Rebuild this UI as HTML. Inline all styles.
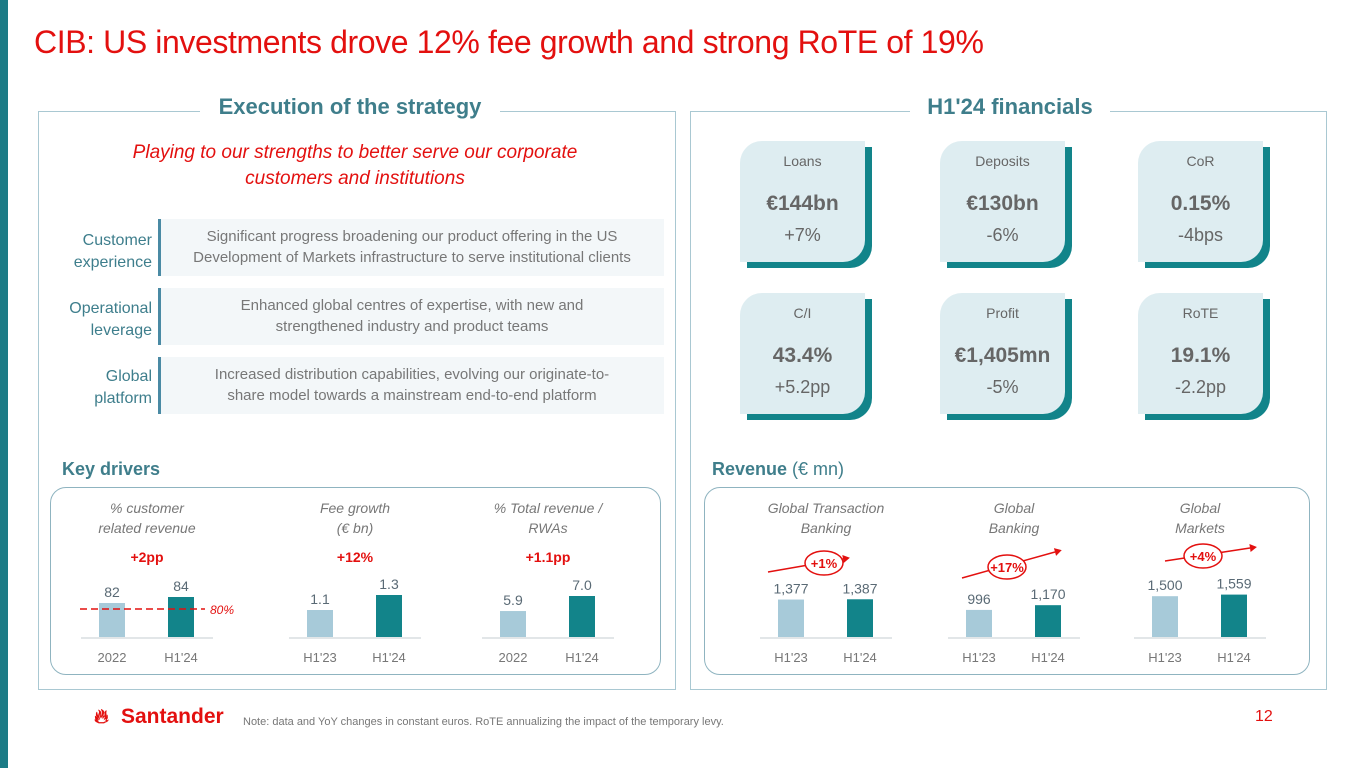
<!DOCTYPE html>
<html><head><meta charset="utf-8"><style>
*{margin:0;padding:0;box-sizing:border-box}
body{width:1365px;height:768px;position:relative;background:#fff;font-family:"Liberation Sans",sans-serif;overflow:hidden}
.a{position:absolute}
.c{text-align:center}
.card{position:absolute;width:125px;height:121px;background:#deedf1;border-radius:22px 0 22px 0;box-shadow:7px 6px 0 #12848a;}
.card .l{position:absolute;top:12px;width:100%;text-align:center;font-size:14px;color:#666}
.card .v{position:absolute;top:51px;width:100%;text-align:center;font-size:21px;font-weight:bold;color:#666}
.card .d{position:absolute;top:84px;width:100%;text-align:center;font-size:18px;color:#666}
.row{position:absolute;left:160px;width:504px;height:57px;background:#f3f7f9;color:#777;font-size:15px;line-height:21px;text-align:center;padding-top:7px}
.rl{position:absolute;left:48px;width:104px;text-align:right;color:#3e7e8c;font-size:16px;line-height:22px}
.bar{position:absolute;width:3px;left:158px;background:#4a8aa4;height:57px}
</style></head><body>
<div class="a" style="left:0;top:0;width:8px;height:768px;background:#1c7b86"></div>
<div class="a" style="left:34px;top:24px;font-size:32px;letter-spacing:-0.4px;color:#e3100f">CIB: US investments drove 12% fee growth and strong RoTE of 19%</div>

<div class="a" style="left:38px;top:111px;width:638px;height:579px;border:1px solid #a9c8d2"></div>
<div class="a" style="left:200px;top:94px;width:300px;background:#fff;text-align:center;font-size:22px;font-weight:bold;color:#3f7e8b">Execution of the strategy</div>
<div class="a" style="left:690px;top:111px;width:637px;height:579px;border:1px solid #a9c8d2"></div>
<div class="a" style="left:910px;top:94px;width:200px;background:#fff;text-align:center;font-size:22px;font-weight:bold;color:#3f7e8b">H1'24 financials</div>

<div class="a c" style="left:60px;top:140px;width:590px;font-size:19px;line-height:26px;font-style:italic;color:#e3100f">Playing to our strengths to better serve our corporate<br>customers and institutions</div>

<div class="row" style="top:219px">Significant progress broadening our product offering in the US<br>Development of Markets infrastructure to serve institutional clients</div>
<div class="bar" style="top:219px"></div>
<div class="rl" style="top:230px">Customer<br>experience</div>
<div class="row" style="top:288px">Enhanced global centres of expertise, with new and<br>strengthened industry and product teams</div>
<div class="bar" style="top:288px"></div>
<div class="rl" style="top:298px">Operational<br>leverage</div>
<div class="row" style="top:357px">Increased distribution capabilities, evolving our originate-to-<br>share model towards a mainstream end-to-end platform</div>
<div class="bar" style="top:357px"></div>
<div class="rl" style="top:366px">Global<br>platform</div>

<div class="card" style="left:740px;top:141px"><div class="l">Loans</div><div class="v">€144bn</div><div class="d">+7%</div></div>
<div class="card" style="left:940px;top:141px"><div class="l">Deposits</div><div class="v">€130bn</div><div class="d">-6%</div></div>
<div class="card" style="left:1138px;top:141px"><div class="l">CoR</div><div class="v">0.15%</div><div class="d">-4bps</div></div>
<div class="card" style="left:740px;top:293px"><div class="l">C/I</div><div class="v">43.4%</div><div class="d">+5.2pp</div></div>
<div class="card" style="left:940px;top:293px"><div class="l">Profit</div><div class="v">€1,405mn</div><div class="d">-5%</div></div>
<div class="card" style="left:1138px;top:293px"><div class="l">RoTE</div><div class="v">19.1%</div><div class="d">-2.2pp</div></div>

<div class="a" style="left:62px;top:459px;font-size:18px;font-weight:bold;color:#3f7e8b">Key drivers</div>
<div class="a" style="left:712px;top:459px;font-size:18px;color:#3f7e8b"><b>Revenue</b> (€ mn)</div>
<div class="a" style="left:50px;top:487px;width:611px;height:188px;border:1px solid #8fb4c0;border-radius:16px"></div>
<div class="a" style="left:704px;top:487px;width:606px;height:188px;border:1px solid #8fb4c0;border-radius:16px"></div>

<svg id="ch" class="a" style="left:0;top:0" width="1365" height="768"></svg>

<div class="a" style="left:94px;top:703px;font-size:22px;font-weight:bold;color:#e3100f"><span style="font-size:20px">&#x1F525;&#xFE0E;</span></div>
<div class="a" style="left:121px;top:705px;font-size:21px;font-weight:bold;color:#e3100f">Santander</div>
<div class="a" style="left:243px;top:716px;font-size:11px;color:#777">Note: data and YoY changes in constant euros. RoTE annualizing the impact of the temporary levy.</div>
<div class="a" style="left:1255px;top:708px;font-size:16px;color:#e3100f">12</div>

<script>
const kdTitles=[["% customer","related revenue"],["Fee growth","(€ bn)"],["% Total revenue /","RWAs"]];
const kdChanges=["+2pp","+12%","+1.1pp"];
const kdCats=[["2022","H1'24"],["H1'23","H1'24"],["2022","H1'24"]];
const kdValues=[[82,84],[1.1,1.3],[5.9,7.0]];
const kdLabels=[["82","84"],["1.1","1.3"],["5.9","7.0"]];
const kdMins=[70.7,0.74,4.0];
const kdMaxs=[84,1.3,7.0];
const kdTarget=80;
const revTitles=[["Global Transaction","Banking"],["Global","Banking"],["Global","Markets"]];
const revChanges=["+1%","+17%","+4%"];
const revCats=[["H1'23","H1'24"],["H1'23","H1'24"],["H1'23","H1'24"]];
const revValues=[[1377,1387],[996,1170],[1500,1559]];
const revLabels=[["1,377","1,387"],["996","1,170"],["1,500","1,559"]];

// annotation layout (pixel geometry, not data)
const revArrowGeom=[
 {x1:-58,y1:572,x2:17,y2:559,ex:-2,ey:563},
 {x1:-52,y1:578,x2:41,y2:552,ex:-7,ey:567},
 {x1:-35,y1:561,x2:50,y2:548,ex:3,ey:556}
];

const svg=document.getElementById('ch');const NS='http://www.w3.org/2000/svg';
function el(t,a,txt){const e=document.createElementNS(NS,t);for(const k in a)e.setAttribute(k,a[k]);if(txt!==undefined)e.textContent=txt;svg.appendChild(e);return e;}
const base=637;
function drawGroup(cx,titles,chg,cats,vals,labs,y,kind,i){
  let t=el('text',{x:cx,y:513,'text-anchor':'middle','font-size':14,'font-style':'italic',fill:'#777'},titles[0]);
  
  
  t=el('text',{x:cx,y:533,'text-anchor':'middle','font-size':14,'font-style':'italic',fill:'#777'},titles[1]);
  
  
  const ln=el('line',{x1:cx-66,x2:cx+66,y1:base+1,y2:base+1,stroke:'#e2e6e8','stroke-width':2});
  
  
  vals.forEach((v,j)=>{
    const bx=cx-35+j*69-13;const h=y(v);
    const r=el('rect',{x:bx,y:base-h,width:26,height:h,fill:j?'#12848a':'#a7cad9'});
    
    
    const l=el('text',{x:bx+13,y:base-h-6,'text-anchor':'middle','font-size':14,fill:'#5a6a75'},labs[j]);
    
    
    const c=el('text',{x:bx+13,y:662,'text-anchor':'middle','font-size':13,fill:'#777'},cats[j]);
    
    
  });
  if(kind==='kd'){
    const c=el('text',{x:cx,y:562,'text-anchor':'middle','font-size':14,'font-weight':'bold',fill:'#e3100f'},chg);
    
    
  } else {
    const g=revArrowGeom[i];
    const x1=cx+g.x1,x2=cx+g.x2,y1=g.y1,y2=g.y2;
    const a=el('line',{x1:x1,y1:y1,x2:x2,y2:y2,stroke:'#e3100f','stroke-width':1.5});
    
    
    const ang=Math.atan2(y2-y1,x2-x1);
    const p=el('polygon',{points:`${x2+7*Math.cos(ang)},${y2+7*Math.sin(ang)} ${x2-4*Math.sin(ang)},${y2+4*Math.cos(ang)} ${x2+4*Math.sin(ang)},${y2-4*Math.cos(ang)}`,fill:'#e3100f'});
    
    
    const e=el('ellipse',{cx:cx+g.ex,cy:g.ey,rx:19,ry:12,fill:'#fff',stroke:'#e3100f','stroke-width':1.5});
    
    
    const c=el('text',{x:cx+g.ex,y:g.ey+5,'text-anchor':'middle','font-size':13,'font-weight':'bold',fill:'#e3100f'},chg);
    
    
  }
}
const kdCx=[147,355,548];
kdCx.forEach((cx,i)=>{
  const y=v=>(v-kdMins[i])/(kdMaxs[i]-kdMins[i])*(i===0?40:i===1?42:41);
  drawGroup(cx,kdTitles[i],kdChanges[i],kdCats[i],kdValues[i],kdLabels[i],y,'kd',i);
  if(i===0){
    const ty=base-y(kdTarget);
    const d=el('line',{x1:cx-67,x2:cx+58,y1:ty,y2:ty,stroke:'#e3100f','stroke-width':1.5,'stroke-dasharray':'7,4'});
    
    
    const t=el('text',{x:cx+63,y:ty+5,'font-size':12,'font-style':'italic',fill:'#e3100f'},kdTarget+'%');
    
    
  }
});
const revCx=[826,1014,1200];
revCx.forEach((cx,i)=>{
  const y=v=>v*0.0272;
  drawGroup(cx,revTitles[i],revChanges[i],revCats[i],revValues[i],revLabels[i],y,'rev',i);
});
</script>
</body></html>
